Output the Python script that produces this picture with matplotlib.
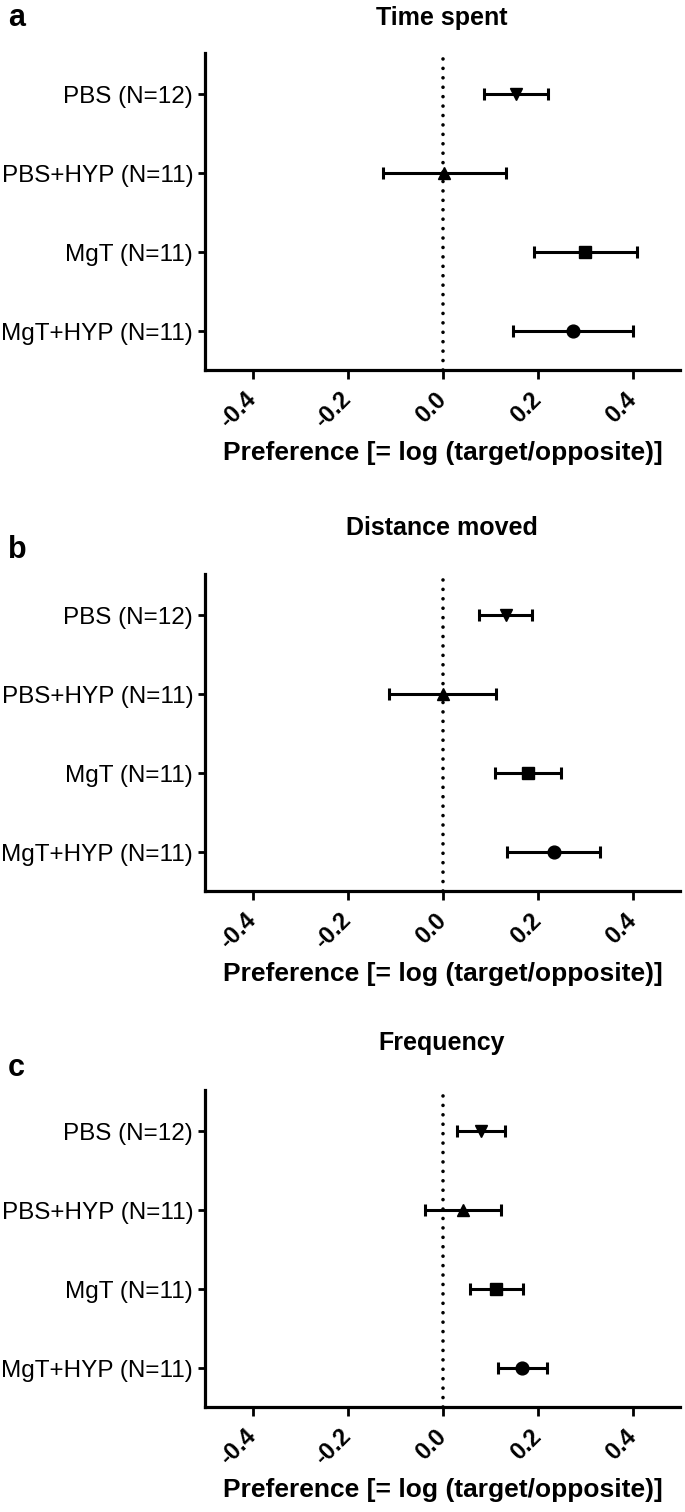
import matplotlib
matplotlib.use('Agg')
import matplotlib.pyplot as plt
import numpy

plt.rcParams['font.family'] = ['Liberation Sans', 'DejaVu Sans']

GROUPS = ['PBS (N=12)', 'PBS+HYP (N=11)', 'MgT (N=11)', 'MgT+HYP (N=11)']
MARKERS = ['v', '^', 's', 'o']
PANEL_LETTERS = ['a', 'b', 'c']
PANEL_TITLES = ['Time spent', 'Distance moved', 'Frequency']

# mean and SEM
TIME_MEAN = [0.155, 0.004, 0.301, 0.275]
TIME_SEM = [0.067, 0.130, 0.108, 0.126]
DIST_MEAN = [0.133, 0.000, 0.180, 0.234]
DIST_SEM = [0.056, 0.112, 0.070, 0.098]
FREQ_MEAN = [0.081, 0.043, 0.113, 0.168]
FREQ_SEM = [0.050, 0.080, 0.056, 0.052]

X_TICKS = [-0.4, -0.2, 0.0, 0.2, 0.4]
X_LABEL = 'Preference [= log (target/opposite)]'

W, H = 685, 1512
PANEL_TOPS = [53, 574, 1090]
PANEL_HEIGHT = 317
AX_LEFT, AX_WIDTH = 205, 475
TITLE_Y = [18, 528, 1043]
LETTER_Y = [18, 550, 1068]

fig = plt.figure(figsize=(W / 100, H / 100), dpi=100)

panel_data = [(TIME_MEAN, TIME_SEM), (DIST_MEAN, DIST_SEM), (FREQ_MEAN, FREQ_SEM)]

for i, (means, sems) in enumerate(panel_data):
    top = PANEL_TOPS[i]
    ax = fig.add_axes([AX_LEFT / W, 1 - (top + PANEL_HEIGHT) / H,
                       AX_WIDTH / W, PANEL_HEIGHT / H])
    ax.axvline(0, color='black', linewidth=2.6, linestyle=(0, (0.01, 2.6)),
               dash_capstyle='round', zorder=1)
    y_pos = numpy.arange(len(GROUPS))
    for y, m, s, mk in zip(y_pos, means, sems, MARKERS):
        ax.errorbar(m, y, xerr=s, fmt=mk, color='black',
                    markersize=9.2 if mk != 's' else 8.8,
                    elinewidth=2.2, capsize=4.5, capthick=2.2, zorder=3)
    ax.set_xlim(-0.5, 0.5)
    ax.set_ylim(3.49, -0.52)
    ax.set_yticks(y_pos)
    ax.set_yticklabels(GROUPS, fontsize=17.5)
    ax.set_xticks(X_TICKS)
    ax.set_xticklabels(['%.1f' % t for t in X_TICKS], fontsize=17, fontweight='bold',
                       rotation=45, ha='right', va='center', rotation_mode='anchor')
    ax.set_xlabel(X_LABEL, fontsize=19, fontweight='bold', labelpad=6)
    for side in ['top', 'right']:
        ax.spines[side].set_visible(False)
    for side in ['left', 'bottom']:
        ax.spines[side].set_linewidth(2.3)
    ax.tick_params(axis='y', length=5, width=2, pad=3.5)
    ax.tick_params(axis='x', length=6.5, width=2, pad=12)

    fig.text(442 / W, 1 - TITLE_Y[i] / H, PANEL_TITLES[i], fontsize=18, fontweight='bold',
             ha='center', va='center')
    fig.text(8 / W, 1 - LETTER_Y[i] / H, PANEL_LETTERS[i], fontsize=22, fontweight='bold',
             ha='left', va='center')

fig.savefig('out.png', dpi=100)
